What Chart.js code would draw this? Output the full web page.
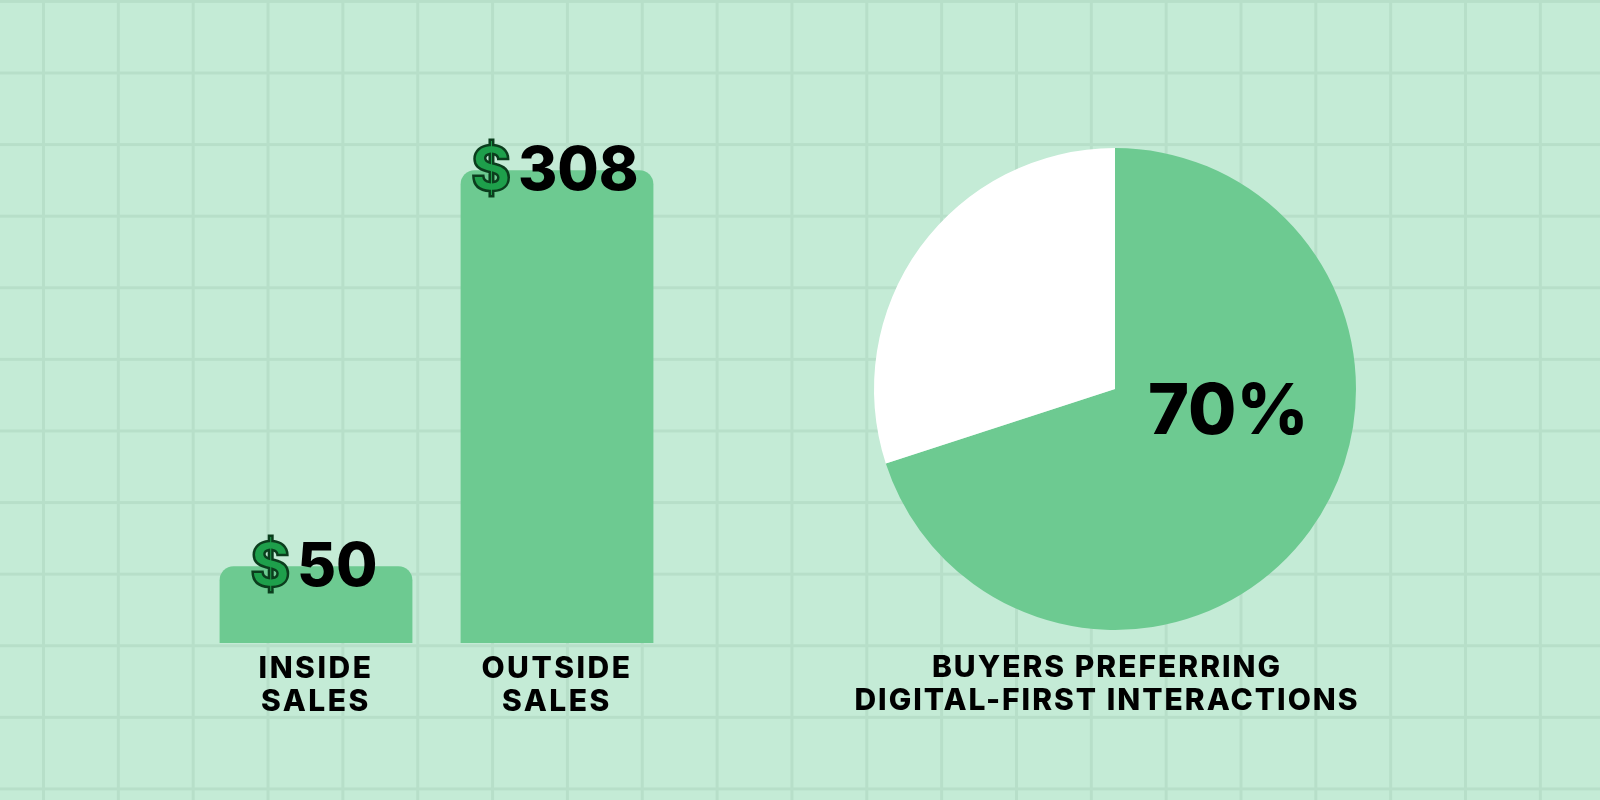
<!DOCTYPE html>
<html>
<head>
<meta charset="utf-8">
<script src="https://cdn.jsdelivr.net/npm/chart.js@4.4.1/dist/chart.umd.min.js"></script>
<style>
    html, body { margin: 0; padding: 0; }
    body {
        width: 1600px;
        height: 800px;
        overflow: hidden;
        background-color: #c4ebd6;
        background-image:
            linear-gradient(to right, #b7dfc9 0, #b7dfc9 3px, transparent 3px),
            linear-gradient(to bottom, #b7dfc9 0, #b7dfc9 3px, transparent 3px);
        background-size: 74.85px 71.6px;
        background-position: 42px 71.5px;
    }
    #wrap { position: relative; width: 1600px; height: 800px; }
    #wrap canvas { position: absolute; left: 0; top: 0; }
</style>
</head>
<body>
<div id="wrap">
    <canvas id="costBars" width="1600" height="800"></canvas>
    <canvas id="buyersPie" width="1600" height="800"></canvas>
</div>
<script>
// data
var costLabels = [['INSIDE', 'SALES'], ['OUTSIDE', 'SALES']];
var costValues = [50, 308];
var costPrefix = '$';

var buyerLabels = ['Digital-first', 'Other'];
var buyerValues = [70, 30];
var buyerTitle = ['BUYERS PREFERRING', 'DIGITAL-FIRST INTERACTIONS'];

var green = '#6dca91';
var fontFamily = 'Inter, "Open Sans", sans-serif';

Chart.defaults.font.family = fontFamily;
Chart.defaults.animation = false;

// wider caps, closer to the original lettering
var spacing = {
    id: 'spacing',
    beforeDraw(chart) {
        chart.ctx.letterSpacing = '2.5px';
    }
};

// "$50" / "$308" on top of each bar
var dollarLabels = {
    id: 'dollarLabels',
    afterDatasetsDraw(chart) {
        var ctx = chart.ctx;
        var meta = chart.getDatasetMeta(0);
        ctx.save();
        ctx.letterSpacing = '0px';
        ctx.font = '800 60px ' + fontFamily;
        ctx.textBaseline = 'alphabetic';
        ctx.textAlign = 'left';
        meta.data.forEach(function (bar, i) {
            var num = String(costValues[i]);
            var wd = ctx.measureText(costPrefix).width;
            var wn = ctx.measureText(num).width;
            var gap = 7;
            var x = bar.x - 2 - (wd + gap + wn) / 2;
            var y = bar.y + 20;
            ctx.lineWidth = 2.5;
            ctx.strokeStyle = '#0b3d1d';
            ctx.fillStyle = '#1e9f4b';
            ctx.fillText(costPrefix, x, y);
            ctx.strokeText(costPrefix, x, y);
            ctx.fillStyle = '#000';
            ctx.fillText(num, x + wd + gap, y);
        });
        ctx.restore();
    }
};

var barChart = new Chart(document.getElementById('costBars').getContext('2d'), {
    type: 'bar',
    data: {
        labels: costLabels,
        datasets: [{
            data: costValues,
            backgroundColor: green,
            borderWidth: 0,
            borderRadius: { topLeft: 14, topRight: 14, bottomLeft: 0, bottomRight: 0 },
            borderSkipped: false,
            barPercentage: 0.8,
            categoryPercentage: 1
        }]
    },
    options: {
        responsive: false,
        layout: { padding: { left: 195.5, right: 922.5, top: 29, bottom: 0 } },
        plugins: { legend: { display: false }, tooltip: { enabled: false } },
        scales: {
            y: { display: false, min: 0, max: 400 },
            x: {
                afterFit: function (s) { s.height = 157; },
                grid: { display: false },
                border: { display: false },
                ticks: {
                    color: '#000',
                    padding: 1,
                    font: { size: 30, weight: '800', lineHeight: 1.1 }
                }
            }
        }
    },
    plugins: [spacing, dollarLabels]
});

// "70%" inside the pie and the caption below it
var pieText = {
    id: 'pieText',
    afterDraw(chart) {
        var ctx = chart.ctx;
        var arc = chart.getDatasetMeta(0).data[0];
        var r = arc.outerRadius;
        ctx.save();
        ctx.fillStyle = '#000';
        ctx.textAlign = 'center';
        ctx.textBaseline = 'middle';
        ctx.font = '800 70px ' + fontFamily;
        ctx.fillText(buyerValues[0] + '%', arc.x + r * 0.47, arc.y + r * 0.1);
        ctx.textBaseline = 'alphabetic';
        ctx.font = '800 30px ' + fontFamily;
        ctx.letterSpacing = '2px';
        buyerTitle.forEach(function (line, i) {
            ctx.fillText(line, arc.x - 8, arc.y + r + 47 + i * 33);
        });
        ctx.restore();
    }
};

var pieChart = new Chart(document.getElementById('buyersPie').getContext('2d'), {
    type: 'pie',
    data: {
        labels: buyerLabels,
        datasets: [{
            data: buyerValues,
            backgroundColor: [green, '#ffffff'],
            borderWidth: 0
        }]
    },
    options: {
        responsive: false,
        layout: { padding: { left: 874, right: 244, top: 148, bottom: 170 } },
        plugins: { legend: { display: false }, tooltip: { enabled: false } }
    },
    plugins: [pieText]
});
</script>
</body>
</html>
